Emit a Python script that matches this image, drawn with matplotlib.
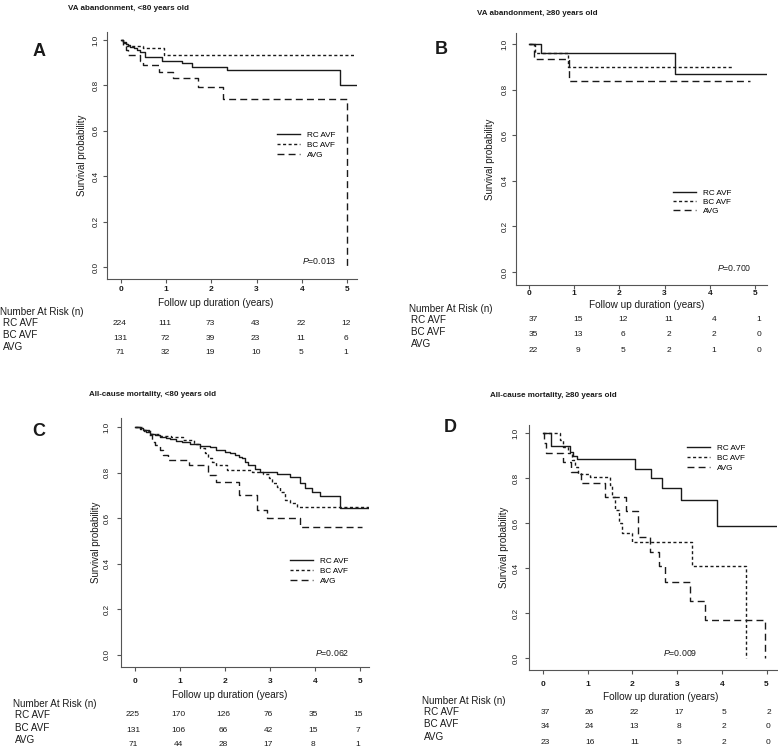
import matplotlib
matplotlib.use("Agg")
import matplotlib.pyplot as plt
from matplotlib.transforms import blended_transform_factory, offset_copy

plt.rcParams["font.family"] = ["Liberation Sans", "DejaVu Sans"]
plt.rcParams["mathtext.fontset"] = "custom"
plt.rcParams["mathtext.it"] = "Liberation Sans:italic"
plt.rcParams["mathtext.rm"] = "Liberation Sans"

W, H = 778, 748
INK = "#1a1a1a"
AXC = "#555555"

GROUPS = ["RC AVF", "BC AVF", "AVG"]
YEARS = [0, 1, 2, 3, 4, 5]
YTICKS = [0.0, 0.2, 0.4, 0.6, 0.8, 1.0]

# --- A: VA abandonment, <80 ---
A_RC_T = [0, 0.05, 0.1, 0.15, 0.2, 0.28, 0.35, 0.42, 0.53, 0.9, 1.34, 1.56, 2.34, 4.85]
A_RC_S = [1.0, 0.99, 0.983, 0.977, 0.97, 0.963, 0.955, 0.945, 0.927, 0.907, 0.898, 0.882, 0.868, 0.80]
A_RC_END = 5.21
A_BC_T = [0, 0.05, 0.1, 0.49, 0.95]
A_BC_S = [1.0, 0.985, 0.974, 0.963, 0.936]
A_BC_END = 5.21
A_AVG_T = [0, 0.05, 0.1, 0.15, 0.42, 0.49, 0.83, 1.16, 1.71, 2.26, 4.99]
A_AVG_S = [1.0, 0.975, 0.955, 0.934, 0.907, 0.89, 0.86, 0.831, 0.794, 0.74, 0.0]
A_AVG_END = 4.99
A_RISK = [[224, 111, 73, 43, 22, 12], [131, 72, 39, 23, 11, 6], [71, 32, 19, 10, 5, 1]]

# --- B: VA abandonment, >=80 ---
B_RC_T = [0, 0.26, 3.24]
B_RC_S = [1.0, 0.962, 0.867]
B_RC_END = 5.27
B_BC_T = [0, 0.13, 0.86]
B_BC_S = [1.0, 0.962, 0.898]
B_BC_END = 4.5
B_AVG_T = [0, 0.1, 0.88]
B_AVG_S = [1.0, 0.933, 0.839]
B_AVG_END = 4.9
B_RISK = [[37, 15, 12, 11, 4, 1], [35, 13, 6, 2, 2, 0], [22, 9, 5, 2, 1, 0]]

# --- C: all-cause mortality, <80 ---
C_RC_T = [0, 0.1, 0.185, 0.25, 0.33, 0.45, 0.556, 0.68, 0.78, 0.9, 1.04, 1.22, 1.44, 1.67,
          1.81, 2.0, 2.1, 2.22, 2.3, 2.37, 2.45, 2.52, 2.67, 2.78, 3.15, 3.44, 3.67, 3.78,
          3.93, 4.11, 4.55]
C_RC_S = [1.0, 0.995, 0.987, 0.977, 0.968, 0.963, 0.958, 0.952, 0.947, 0.94, 0.933, 0.924,
          0.917, 0.911, 0.9, 0.892, 0.885, 0.877, 0.87, 0.862, 0.848, 0.833, 0.816, 0.804,
          0.792, 0.781, 0.753, 0.731, 0.716, 0.699, 0.643]
C_RC_END = 5.22
C_BC_T = [0, 0.1, 0.2, 0.35, 0.55, 0.8, 1.07, 1.3, 1.45, 1.56, 1.63, 1.7, 1.81, 2.04, 2.6,
          2.85, 2.97, 3.04, 3.15, 3.22, 3.33, 3.45, 3.6]
C_BC_S = [1.0, 0.993, 0.982, 0.97, 0.962, 0.955, 0.944, 0.925, 0.91, 0.885, 0.866, 0.848,
          0.833, 0.811, 0.804, 0.796, 0.775, 0.753, 0.735, 0.716, 0.68, 0.667, 0.648]
C_BC_END = 5.22
C_AVG_T = [0, 0.185, 0.3, 0.37, 0.44, 0.556, 0.63, 0.74, 1.19, 1.63, 1.81, 2.3, 2.7, 2.93, 3.67]
C_AVG_S = [1.0, 0.987, 0.965, 0.936, 0.921, 0.899, 0.877, 0.855, 0.833, 0.789, 0.76, 0.702,
           0.636, 0.602, 0.563]
C_AVG_END = 5.04
C_RISK = [[225, 170, 126, 76, 35, 15], [131, 106, 66, 42, 15, 7], [71, 44, 28, 17, 8, 1]]

# --- D: all-cause mortality, >=80 ---
D_RC_T = [0, 0.19, 0.6, 0.68, 0.75, 2.06, 2.42, 2.66, 3.09, 3.89]
D_RC_S = [1.0, 0.943, 0.914, 0.9, 0.883, 0.840, 0.799, 0.754, 0.702, 0.587]
D_RC_END = 5.26
D_BC_T = [0, 0.38, 0.45, 0.57, 0.64, 0.72, 0.79, 1.05, 1.5, 1.54, 1.62, 1.69, 1.77, 2.0, 3.33, 4.54]
D_BC_S = [1.0, 0.97, 0.94, 0.91, 0.88, 0.85, 0.82, 0.806, 0.768, 0.717, 0.66, 0.6, 0.557,
          0.515, 0.41, 0.0]
D_BC_END = 4.54
D_AVG_T = [0, 0.03, 0.074, 0.447, 0.634, 0.857, 1.38, 1.86, 2.12, 2.39, 2.6, 2.72, 3.28, 3.62, 4.97]
D_AVG_S = [1.0, 0.957, 0.913, 0.87, 0.826, 0.78, 0.717, 0.652, 0.54, 0.47, 0.41, 0.337,
           0.253, 0.169, 0.0]
D_AVG_END = 4.97
D_RISK = [[37, 26, 22, 17, 5, 2], [34, 24, 13, 8, 2, 0], [23, 16, 11, 5, 2, 0]]

STYLES = {"RC AVF": "-", "BC AVF": (0, (2.2, 1.8)), "AVG": (0, (5, 3))}


def fx(x):
    return x / W


def fy(y):
    return 1 - y / H


# layout of each panel in pixels of the original picture
PANELS = [
    dict(letter="A", title="VA abandonment, <80 years old", title_xy=(68, 8), letter_xy=(39, 51),
         box=(107, 32, 357, 279), x0=121, ppy=45.2, y1=40, y0=267,
         curves=[(A_RC_T, A_RC_S, A_RC_END), (A_BC_T, A_BC_S, A_BC_END), (A_AVG_T, A_AVG_S, A_AVG_END)],
         risk=A_RISK, pval="0.013", p_xy=(336, 261), leg=(277, 131, 0.3),
         xlab=(216, 303), ylab_x=82, xpad=3, ypad=3,
         head=(0, 312), lab_x=3, lab_y=[323, 335, 347], num_y=[323, 338, 353], num_dx=-1),
    dict(letter="B", title="VA abandonment, \u226580 years old", title_xy=(477, 13), letter_xy=(441, 49),
         box=(516, 33, 767, 285), x0=529, ppy=45.2, y1=44, y0=272,
         curves=[(B_RC_T, B_RC_S, B_RC_END), (B_BC_T, B_BC_S, B_BC_END), (B_AVG_T, B_AVG_S, B_AVG_END)],
         risk=B_RISK, pval="0.700", p_xy=(752, 268), leg=(673, 189, 0.17),
         xlab=(647, 305), ylab_x=490, xpad=1, ypad=3,
         head=(409, 309), lab_x=411, lab_y=[320, 332, 344], num_y=[320, 335, 350], num_dx=4),
    dict(letter="C", title="All-cause mortality, <80 years old", title_xy=(89, 395), letter_xy=(39, 432),
         box=(121, 418, 369, 667), x0=135, ppy=45.0, y1=427, y0=655,
         curves=[(C_RC_T, C_RC_S, C_RC_END), (C_BC_T, C_BC_S, C_BC_END), (C_AVG_T, C_AVG_S, C_AVG_END)],
         risk=C_RISK, pval="0.062", p_xy=(349, 653), leg=(290, 557, 0.3),
         xlab=(230, 695), ylab_x=96, xpad=7, ypad=6,
         head=(13, 704), lab_x=15, lab_y=[715, 728, 740], num_y=[715, 730, 745], num_dx=-2),
    dict(letter="D", title="All-cause mortality, \u226580 years old", title_xy=(490, 395), letter_xy=(450, 428),
         box=(529, 425, 777, 670), x0=543, ppy=44.7, y1=433, y0=658,
         curves=[(D_RC_T, D_RC_S, D_RC_END), (D_BC_T, D_BC_S, D_BC_END), (D_AVG_T, D_AVG_S, D_AVG_END)],
         risk=D_RISK, pval="0.009", p_xy=(697, 653), leg=(687, 444, 0.3),
         xlab=(661, 697), ylab_x=504, xpad=7, ypad=5,
         head=(422, 701), lab_x=424, lab_y=[712, 724, 737], num_y=[712, 727, 742], num_dx=2),
]

fig = plt.figure(figsize=(W / 100, H / 100), dpi=100)

for p in PANELS:
    left, top, right, bottom = p["box"]
    ax = fig.add_axes([fx(left), fy(bottom), (right - left) / W, (bottom - top) / H])
    ax.set_xlim((left - p["x0"]) / p["ppy"], (right - p["x0"]) / p["ppy"])
    span = p["y0"] - p["y1"]
    ax.set_ylim((p["y0"] - bottom) / span, (p["y0"] - top) / span)

    for name, (t, s, end) in zip(GROUPS, p["curves"]):
        ax.step(t + [end], s + [s[-1]], where="post", color=INK, lw=1.0,
                linestyle=STYLES[name], label=name)

    for side in ["top", "right"]:
        ax.spines[side].set_visible(False)
    for side in ["left", "bottom"]:
        ax.spines[side].set_color(AXC)
        ax.spines[side].set_linewidth(0.8)
    ax.set_xticks(YEARS)
    ax.set_xticklabels([str(y) for y in YEARS], fontsize=6, fontweight="bold", color=INK)
    ax.set_yticks(YTICKS)
    ax.set_yticklabels([f"{v:.1f}" for v in YTICKS], fontsize=5.8, rotation=90, va="center", color=INK)
    ax.tick_params(axis="x", length=3, width=0.8, color=AXC, pad=p["xpad"] * 0.72)
    ax.tick_params(axis="y", length=3, width=0.8, color=AXC, pad=p["ypad"] * 0.72)

    lx, ly, lsp = p["leg"]
    ax.legend(loc="upper left", bbox_to_anchor=(fx(lx), fy(ly)), bbox_transform=fig.transFigure,
              frameon=False, fontsize=5.9, handlelength=2.8, handletextpad=0.85,
              labelspacing=lsp, borderpad=0, borderaxespad=0)

    fig.text(fx(p["title_xy"][0]), fy(p["title_xy"][1]), p["title"], fontsize=5.8,
             fontweight="bold", ha="left", va="center", color=INK)
    fig.text(fx(p["letter_xy"][0]), fy(p["letter_xy"][1]), p["letter"], fontsize=13,
             fontweight="bold", ha="center", va="center", color=INK)
    fig.text(fx(p["xlab"][0]), fy(p["xlab"][1]), "Follow up duration (years)", fontsize=7.2,
             ha="center", va="center", color=INK)
    fig.text(fx(p["ylab_x"]), fy((top + bottom) / 2), "Survival probability", fontsize=7,
             rotation=90, ha="center", va="center", color=INK)
    fig.text(fx(p["p_xy"][0]), fy(p["p_xy"][1]), r"$P$=" + p["pval"], fontsize=6.3,
             ha="right", va="center", color=INK)

    # number at risk table
    fig.text(fx(p["head"][0]), fy(p["head"][1]), "Number At Risk (n)", fontsize=7.1,
             ha="left", va="center", color=INK)
    trans = offset_copy(blended_transform_factory(ax.transData, fig.transFigure), fig=fig,
                        x=p["num_dx"] * 0.72, units="points")
    for i, name in enumerate(GROUPS):
        fig.text(fx(p["lab_x"]), fy(p["lab_y"][i]), name, fontsize=7.1, ha="left",
                 va="center", color=INK)
        for yr, n in zip(YEARS, p["risk"][i]):
            ax.text(yr, fy(p["num_y"][i]), str(n), transform=trans, fontsize=6,
                    ha="center", va="center", color=INK)

fig.savefig("out.png", dpi=100)
